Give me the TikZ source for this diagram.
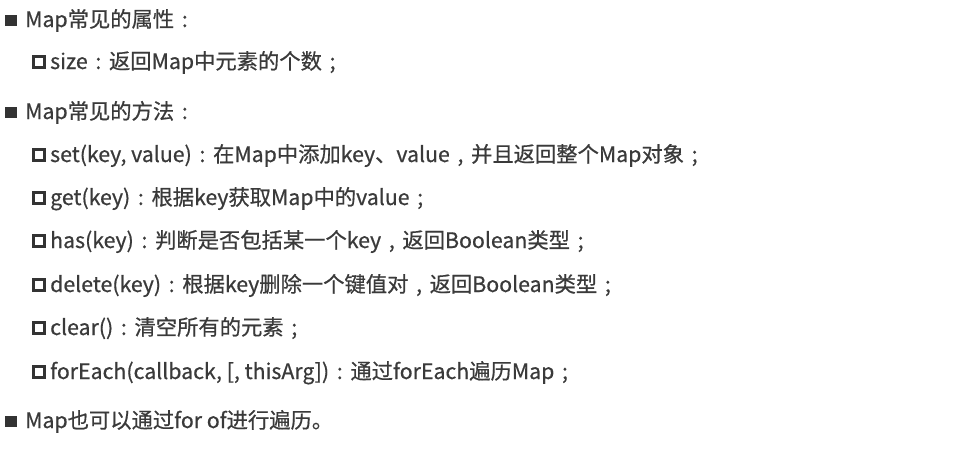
\documentclass[tikz,border=0pt]{standalone}
\usepackage{fontspec}
\setmainfont{Noto Sans CJK SC}[FakeBold=0.6]
\definecolor{txt}{HTML}{3A3A3A}
\definecolor{bul}{HTML}{333333}
\newcommand{\fcol}{\makebox[1em][c]{:}}
\newcommand{\fsem}{\makebox[1em][c]{;}}
\newcommand{\fcom}{\makebox[1em][c]{,}}
\begin{document}
\begin{tikzpicture}[x=1pt,y=-1pt,
  lineA/.style={anchor=base west,inner sep=0pt,text=txt,font=\fontsize{21.3}{21.3}\selectfont},
  lineB/.style={lineA}]
\useasboundingbox[fill=white] (0,0) rectangle (955,448);
% level-1 items
\foreach \y in {27,119,428}{
  \fill[bul] (5,\y-12) rectangle (17,\y-1);
}
% level-2 items
\foreach \y in {69,162,205,248,292,335,379}{
  \draw[bul,line width=3pt] (33.5,\y-12.5) rectangle (44.5,\y-1.5);
}
\node[lineA] (l1) at (25,27) {Map常见的属性\fcol};
\node[lineB] (l2) at (50,69) {size\fcol 返回Map中元素的个数\fsem};
\node[lineA] (l3) at (25,119) {Map常见的方法\fcol};
\node[lineB] (l4) at (50,162) {set(key, value)\fcol 在Map中添加key、value\fcom 并且返回整个Map对象\fsem};
\node[lineB] (l5) at (50,205) {get(key)\fcol 根据key获取Map中的value\fsem};
\node[lineB] (l6) at (50,248) {has(key)\fcol 判断是否包括某一个key\fcom 返回Boolean类型\fsem};
\node[lineB] (l7) at (50,292) {delete(key)\fcol 根据key删除一个键值对\fcom 返回Boolean类型\fsem};
\node[lineB] (l8) at (50,335) {clear()\fcol 清空所有的元素\fsem};
\node[lineB] (l9) at (50,379) {forEach(callback, [, thisArg])\fcol 通过forEach遍历Map\fsem};
\node[lineA] (l10) at (25,428) {Map也可以通过for of进行遍历。};
\end{tikzpicture}
\end{document}
